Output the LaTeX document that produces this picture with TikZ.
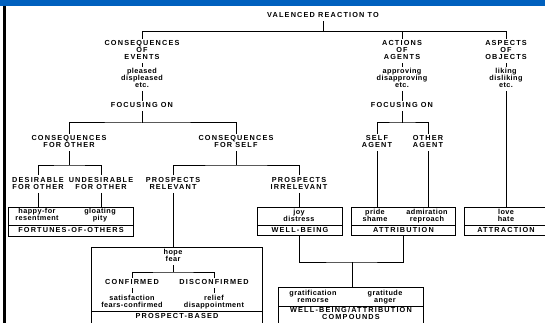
\documentclass[tikz,border=0pt]{standalone}
\usepackage{fontspec}
\setmainfont{Liberation Sans}[LetterSpace=6]
\newfontfamily\capsfont{Liberation Sans}[LetterSpace=16]
\usepackage{xcolor}
\definecolor{barblue}{RGB}{0,96,190}
\newcommand\lblfont{\fontsize{7.3}{7}\selectfont\lineskiplimit=-10pt\bfseries\capsfont}
\newcommand\smlfont{\fontsize{7.3}{7}\selectfont\lineskiplimit=-10pt\bfseries}

\begin{document}
\begin{tikzpicture}[x=1pt,y=-1pt,line width=1pt,
  lbl/.style={font=\lblfont,align=center,inner sep=1.5pt,execute at end node={\vphantom{py}}},
  sml/.style={lbl,font=\smlfont},
  bx/.style={draw,anchor=north west,inner sep=0pt}]
\useasboundingbox (0,0) rectangle (545,323);
\fill[barblue] (0,0) rectangle (545,6);
\fill[black] (3,6) rectangle (6,323);

% top level
\node[lbl] (valenced) at (323,16) {VALENCED REACTION TO};
\node[lbl] (events) at (142,51) {CONSEQUENCES\\OF\\EVENTS};
\node[lbl] (actions) at (402,51) {ACTIONS\\OF\\AGENTS};
\node[lbl] (objects) at (506,51) {ASPECTS\\OF\\OBJECTS};
\coordinate (topbus) at (323,32);
\draw (valenced) -- (topbus);
\draw (events.north) |- (objects.north |- topbus) -- (objects.north);
\draw (actions.north) -- (actions.north |- topbus);

\node[sml] (pleased) at (142,79) {pleased\\displeased\\etc.};
\node[sml] (approving) at (402,79) {approving\\disapproving\\etc.};
\node[sml] (liking) at (506,79) {liking\\disliking\\etc.};
\foreach \a/\b in {events/pleased,actions/approving,objects/liking}
  \draw (\a) -- (\b);
\node[lbl] (evfocus) at (142,106) {FOCUSING ON};
\node[lbl] (agfocus) at (402,106) {FOCUSING ON};
\draw (pleased) -- (evfocus);
\draw (approving) -- (agfocus);

% second level
\node[lbl] (forother) at (69,142.5) {CONSEQUENCES\\FOR OTHER};
\node[lbl] (forself) at (236,142.5) {CONSEQUENCES\\FOR SELF};
\node[lbl] (selfag) at (377,142.5) {SELF\\AGENT};
\node[lbl] (otherag) at (428,142.5) {OTHER\\AGENT};
\coordinate (evbus) at (142,123);
\coordinate (agbus) at (402,123);
\draw (evfocus) -- (evbus);
\draw (forother.north) |- (evbus) -| (forself.north);
\draw (agfocus) -- (agbus);
\draw (selfag.north) |- (agbus) -| (otherag.north);

% third level
\node[lbl] (desir) at (38,184) {DESIRABLE\\FOR OTHER};
\node[lbl] (undesir) at (101,184) {UNDESIRABLE\\FOR OTHER};
\node[lbl] (relevant) at (173,184) {PROSPECTS\\RELEVANT};
\node[lbl] (irrelevant) at (299,184) {PROSPECTS\\IRRELEVANT};
\coordinate (otherbus) at (69,165);
\coordinate (selfbus) at (236,165);
\draw (forother) -- (otherbus);
\draw (desir.north) |- (otherbus) -| (undesir.north);
\draw (forself) -- (selfbus);
\draw (relevant.north) |- (selfbus) -| (irrelevant.north);

% boxes
\node[bx,minimum width=125,minimum height=29] (fortunes) at (8,207) {};
\node[bx,minimum width=171,minimum height=90] (prospect) at (91,247) {};
\node[bx,minimum width=85,minimum height=28] (wellbeing) at (257,207) {};
\node[bx,minimum width=104,minimum height=28] (attribution) at (351,207) {};
\node[bx,minimum width=83,minimum height=28] (attraction) at (464,207) {};
\node[bx,minimum width=145,minimum height=45] (compound) at (278,287) {};
\foreach \b/\y in {fortunes/225,prospect/311,wellbeing/225,attribution/225,attraction/225,compound/306}
  \draw (\b.west |- 0,\y) -- (\b.east |- 0,\y);

\draw (desir) -- (desir |- fortunes.north);
\draw (undesir) -- (undesir |- fortunes.north);
\draw (relevant) -- (relevant |- prospect.north);
\draw (irrelevant) -- (irrelevant |- wellbeing.north);
\draw (selfag) -- (selfag |- attribution.north);
\draw (otherag) -- (otherag |- attribution.north);
\draw (liking) -- (liking |- attraction.north);

% fortunes-of-others
\node[sml] (happyfor) at (37,215.5) {happy-for\\resentment};
\node[sml] (gloating) at (100,215.5) {gloating\\pity};
\node[lbl] (fortuneslbl) at (fortunes.center |- 0,230.5) {FORTUNES-OF-OTHERS};

% prospect-based
\node[sml] (hope) at (173,256.5) {hope\\fear};
\node[lbl] (confirmed) at (132,283) {CONFIRMED};
\node[lbl] (disconfirmed) at (214,283) {DISCONFIRMED};
\coordinate (hopebus) at (173,272);
\draw (hope) -- (hopebus);
\draw (confirmed.north) |- (hopebus) -| (disconfirmed.north);
\node[sml] (satisf) at (132,302) {satisfaction\\fears-confirmed};
\node[sml] (relief) at (214,302) {relief\\disappointment};
\draw (confirmed) -- (satisf);
\draw (disconfirmed) -- (relief);
\node[lbl] (prospectlbl) at (prospect.center |- 0,317) {PROSPECT-BASED};

% well-being, attribution, attraction
\node[sml] (joy) at (299,216) {joy\\distress};
\node[lbl] (wellbeinglbl) at (wellbeing.center |- 0,230.5) {WELL-BEING};
\node[sml] (pride) at (375,216) {pride\\shame};
\node[sml] (admiration) at (427,216) {admiration\\reproach};
\node[lbl] (attributionlbl) at (attribution.center |- 0,230.5) {ATTRIBUTION};
\node[sml] (love) at (506,216) {love\\hate};
\node[lbl] (attractionlbl) at (attraction.center |- 0,230.5) {ATTRACTION};

% compounds
\coordinate (compbus) at (352,262);
\draw (irrelevant |- wellbeing.south) |- (compbus) -| (attribution.south);
\draw (compbus) -- (compbus |- compound.north);
\node[sml] (gratif) at (313,297) {gratification\\remorse};
\node[sml] (gratitude) at (385,297) {gratitude\\anger};
\node[lbl] (compoundlbl) at (compound.center |- 0,314.5) {WELL-BEING/ATTRIBUTION\\COMPOUNDS};
\end{tikzpicture}
\end{document}
